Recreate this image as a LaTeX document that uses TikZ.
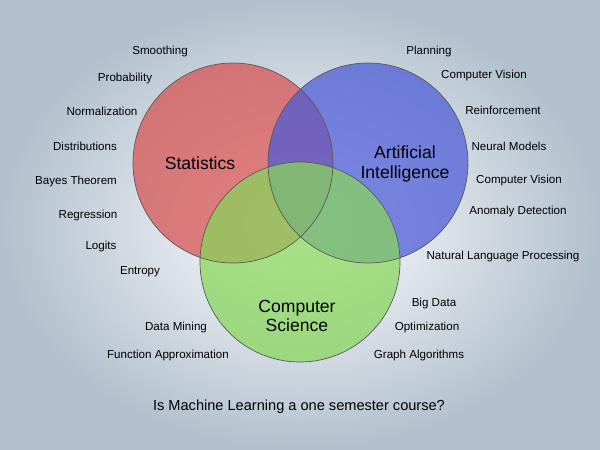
\documentclass[tikz,border=0pt]{standalone}
\usepackage{fontspec}
\setmainfont{Liberation Sans}
\definecolor{statred}{RGB}{215,80,80}
\definecolor{aiblue}{RGB}{75,90,215}
\definecolor{csgreen}{RGB}{135,215,90}
\definecolor{edgeblue}{RGB}{178,192,205}
\begin{document}
\begin{tikzpicture}[x=0.02cm, y=-0.02cm,
    topic/.style={font=\fontsize{6.6}{8}\selectfont, yshift=-2},
    field/.style={font=\fontsize{10}{11}\selectfont, align=center},
    set/.style={fill opacity=0.72}
]
    % background
    \fill[inner color=white, outer color=edgeblue] (0,0) rectangle (600,450);
    \useasboundingbox (0,0) rectangle (600,450);

    % Circles
    \fill[set, fill=statred] (233,163) circle (100);
    \fill[set, fill=aiblue] (368,163) circle (100);
    \fill[set, fill=csgreen] (300,262) circle (100);
    \draw[gray!70!black] (233,163) circle (100) (368,163) circle (100) (300,262) circle (100);

    \node[field] (stat) at (200,163) {Statistics};
    \node[field] (ai) at (405,164) {Artificial\\Intelligence};
    \node[field] (cs) at (297,316) {Computer\\Science};

    % Statistics topics
    \node[topic] (smooth) at (160,48) {Smoothing};
    \node[topic] (prob) at (125,75) {Probability};
    \node[topic] (norm) at (102,108) {Normalization};
    \node[topic] (dist) at (85,143) {Distributions};
    \node[topic] (bayes) at (76,178) {Bayes Theorem};
    \node[topic] (regr) at (88,212) {Regression};
    \node[topic] (logit) at (101,243) {Logits};
    \node[topic] (entr) at (140,268) {Entropy};

    % AI topics
    \node[topic] (plan) at (429,48) {Planning};
    \node[topic] (cv1) at (484,72) {Computer Vision};
    \node[topic] (reinf) at (503,107) {Reinforcement};
    \node[topic] (neural) at (509,143) {Neural Models};
    \node[topic] (cv2) at (519,177) {Computer Vision};
    \node[topic] (anom) at (518,208) {Anomaly Detection};
    \node[topic] (nlp) at (503,253) {Natural Language Processing};

    % CS topics
    \node[topic] (big) at (434,300) {Big Data};
    \node[topic] (optim) at (427,324) {Optimization};
    \node[topic] (graph) at (419,352) {Graph Algorithms};
    \node[topic] (mining) at (176,324) {Data Mining};
    \node[topic] (approx) at (168,352) {Function Approximation};

    \node[font=\fontsize{8.3}{10}\selectfont] (question) at (299,407) {Is Machine Learning a one semester course?};
\end{tikzpicture}
\end{document}
